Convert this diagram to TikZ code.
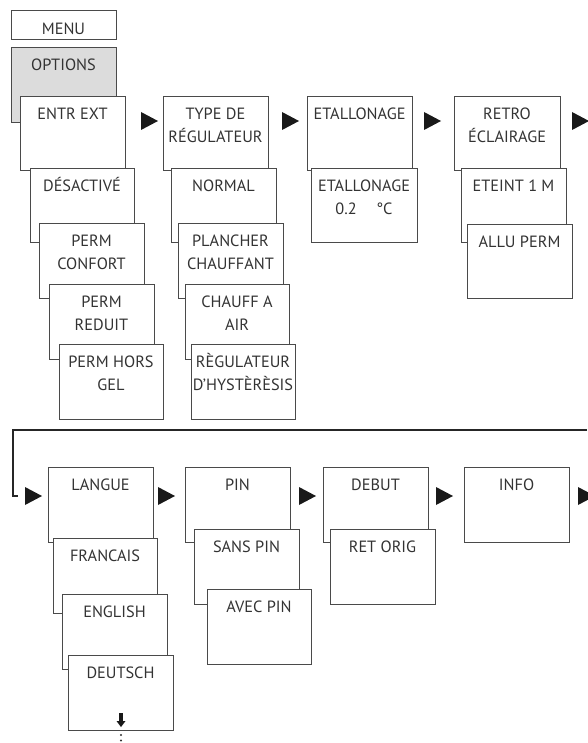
\documentclass[tikz,border=0pt]{standalone}
\usepackage{fontspec}
\setmainfont{PT Sans}
\usetikzlibrary{calc}
\definecolor{ink}{HTML}{333333}
\definecolor{edge}{HTML}{4A4A4A}
\definecolor{optgray}{HTML}{DCDCDC}
\tikzset{
  menubox/.style={draw=edge, line width=0.9pt, fill=white, inner sep=0pt, outer sep=0pt},
  greybox/.style={menubox, fill=optgray},
  txt/.style={text=ink, font=\fontsize{16.3}{23}\selectfont, align=center, inner sep=0pt},
  tri/.style={fill=black!90},
  loopline/.style={draw=black!85, line width=2.4pt},
}
\newcommand{\menubx}[7]{%
  \node[#2, minimum width={(#5-#3)*1pt}, minimum height={(#6-#4)*1pt}] (#1) at ({(#3+#5)/2},{(#4+#6)/2}) {};
  \node[txt, anchor=north] (#1t) at ([yshift=-8pt]#1.north) {\rule{0pt}{15pt}#7};
}
\newcommand{\arrowhd}[3]{% name, x, y
  \coordinate (#1) at (#2,#3);
  \fill[tri] ($(#1)+(0,-9)$) -- ($(#1)+(0,9)$) -- ($(#1)+(17,0)$) -- cycle;
}
\begin{document}
\begin{tikzpicture}[x=1pt,y=-1pt]
\useasboundingbox (0,0) rectangle (587,743);
% MENU
\node[menubox, minimum width=105pt, minimum height=29pt] (menu) at (63.5,24.5) {};
\node[txt, anchor=base] (menut) at ([yshift=-10pt]menu.center) {MENU};
\menubx{options}{greybox}{11}{47}{116}{122}{OPTIONS}
% column 1
\menubx{entr}{menubox}{20}{96}{125}{170}{ENTR EXT}
\menubx{desact}{menubox}{30}{168}{134}{242}{DÉSACTIVÉ}
\menubx{confort}{menubox}{39}{223}{144}{298}{PERM\\CONFORT}
\menubx{reduit}{menubox}{49}{284}{154}{359}{PERM\\REDUIT}
\menubx{horsgel}{menubox}{59}{344}{163}{419}{PERM HORS\\GEL}
% column 2
\menubx{type}{menubox}{163}{96}{268}{170}{TYPE DE\\RÉGULATEUR}
\menubx{normal}{menubox}{171}{168}{276}{242}{NORMAL}
\menubx{plancher}{menubox}{178}{223}{283}{298}{PLANCHER\\CHAUFFANT}
\menubx{chauff}{menubox}{185}{284}{289}{359}{CHAUFF A\\AIR}
\menubx{hyst}{menubox}{191}{344}{295}{419}{RÈGULATEUR\\D’HYSTÈRÈSIS}
% column 3
\menubx{etal}{menubox}{307}{96}{412}{170}{ETALLONAGE}
\menubx{etalval}{menubox}{311}{168}{417}{242}{ETALLONAGE\\0.2\hspace{1.2em}°C}
% column 4
\menubx{retro}{menubox}{454}{96}{560}{170}{RETRO\\ÉCLAIRAGE}
\menubx{eteint}{menubox}{461}{168}{566}{242}{ETEINT 1 M}
\menubx{allu}{menubox}{467}{224}{572}{298}{ALLU PERM}
% top row arrows
\arrowhd{a1}{141}{121}
\arrowhd{a2}{282}{121}
\arrowhd{a3}{424}{121}
\arrowhd{a4}{572}{121}
% loop line
\coordinate (lineR) at (587,430);
\coordinate (lineL) at (13,430);
\arrowhd{b0}{25}{496}
\coordinate (stub) at (18,496);
\draw[loopline] (lineR) -- (lineL) -- (lineL |- stub) -- (stub);
% bottom row
\menubx{langue}{menubox}{48}{467}{153}{542}{LANGUE}
\menubx{francais}{menubox}{53}{538}{157}{613}{FRANCAIS}
\menubx{english}{menubox}{62}{594}{167}{669}{ENGLISH}
\menubx{deutsch}{menubox}{68}{655}{173}{730}{DEUTSCH}
\menubx{pin}{menubox}{185}{467}{290}{542}{PIN}
\menubx{sanspin}{menubox}{194}{529}{299}{604}{SANS PIN}
\menubx{avecpin}{menubox}{207}{589}{311}{664}{AVEC PIN}
\menubx{debut}{menubox}{323}{467}{428}{542}{DEBUT}
\menubx{retorig}{menubox}{330}{529}{435}{604}{RET ORIG}
\menubx{info}{menubox}{464}{467}{569}{542}{INFO}
\arrowhd{b1}{158}{496}
\arrowhd{b2}{299}{496}
\arrowhd{b3}{436}{496}
\arrowhd{b4}{578}{496}
% more-items indicator
\coordinate (more) at (121,713);
\fill[tri] ($(more)+(-2,0)$) rectangle ($(more)+(2,8)$);
\fill[tri] ($(more)+(-4.5,8)$) -- ($(more)+(4.5,8)$) -- ($(more)+(0,14)$) -- cycle;
\fill[ink] ($(more)+(0,22)$) circle (1.1);
\fill[ink] ($(more)+(0,27.5)$) circle (1.1);
\end{tikzpicture}
\end{document}
